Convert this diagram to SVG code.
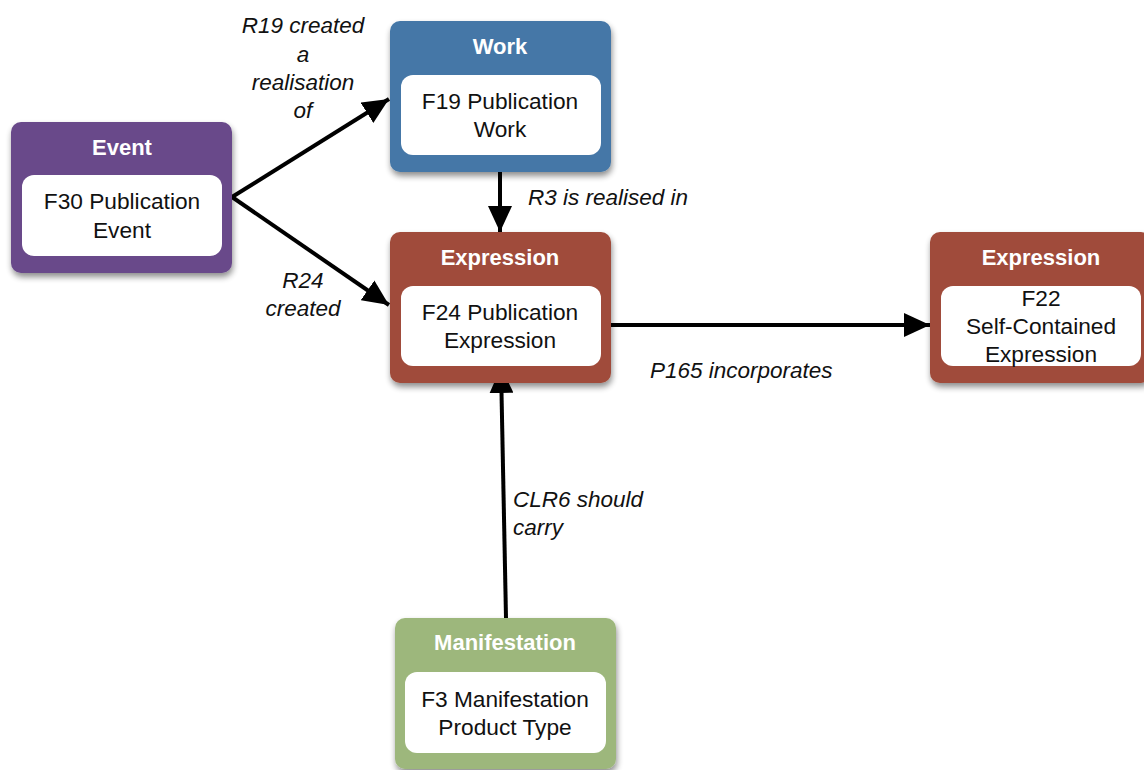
<svg xmlns="http://www.w3.org/2000/svg" width="1144" height="770" viewBox="0 0 1144 770">
<defs>
<filter id="sh" x="-10%" y="-10%" width="125%" height="130%">
<feGaussianBlur in="SourceAlpha" stdDeviation="3"/>
<feOffset dx="1" dy="4" result="b"/>
<feComponentTransfer><feFuncA type="linear" slope="0.45"/></feComponentTransfer>
<feMerge><feMergeNode/><feMergeNode in="SourceGraphic"/></feMerge>
</filter>
<marker id="ah" markerUnits="userSpaceOnUse" markerWidth="28" markerHeight="24" refX="26" refY="12" orient="auto">
<path d="M0,0 L26,12 L0,24 z" fill="#000"/>
</marker>
</defs>
<style>
.hd{font-family:"Liberation Sans",Arial,sans-serif;font-weight:bold;font-size:22px;fill:#fff;text-anchor:middle}
.tx{font-family:"Liberation Sans",Arial,sans-serif;font-size:22.7px;fill:#111;text-anchor:middle}
.lb{font-family:"Liberation Sans",Arial,sans-serif;font-style:italic;font-size:22.5px;fill:#111}
.in{fill:#fff}
.ln{stroke:#000;stroke-width:4;fill:none;marker-end:url(#ah)}
</style>
<g id="connectors">
<line class="ln" x1="232" y1="197" x2="389" y2="99"/>
<line class="ln" x1="232" y1="197" x2="389" y2="305"/>
<line class="ln" x1="500" y1="172" x2="500" y2="232"/>
<line class="ln" x1="611" y1="325" x2="930" y2="325"/>
<line class="ln" x1="506" y1="618" x2="501" y2="367"/>
<text class="lb" x="303" y="33" text-anchor="middle">R19 created</text>
<text class="lb" x="303" y="62" text-anchor="middle">a</text>
<text class="lb" x="303" y="90" text-anchor="middle">realisation</text>
<text class="lb" x="303" y="118" text-anchor="middle">of</text>
<text class="lb" x="303" y="288" text-anchor="middle">R24</text>
<text class="lb" x="303" y="316" text-anchor="middle">created</text>
<text class="lb" x="528" y="205">R3 is realised in</text>
<text class="lb" x="650" y="378">P165 incorporates</text>
<text class="lb" x="513" y="507">CLR6 should</text>
<text class="lb" x="513" y="535">carry</text>
</g>
<g id="event">
<rect x="11" y="122" width="221" height="151" rx="10" fill="#694a8a" filter="url(#sh)"/>
<text class="hd" x="122" y="155">Event</text>
<rect class="in" x="22" y="175" width="200" height="81" rx="12"/>
<text class="tx" x="122" y="209">F30 Publication</text>
<text class="tx" x="122" y="238">Event</text>
</g>
<g id="work">
<rect x="390" y="21" width="221" height="151" rx="10" fill="#4477a7" filter="url(#sh)"/>
<text class="hd" x="500" y="54">Work</text>
<rect class="in" x="401" y="75" width="200" height="80" rx="12"/>
<text class="tx" x="500" y="109">F19 Publication</text>
<text class="tx" x="500" y="137">Work</text>
</g>
<g id="expression1">
<rect x="390" y="232" width="221" height="151" rx="10" fill="#a04c3a" filter="url(#sh)"/>
<text class="hd" x="500" y="265">Expression</text>
<rect class="in" x="401" y="286" width="200" height="80" rx="12"/>
<text class="tx" x="500" y="320">F24 Publication</text>
<text class="tx" x="500" y="348">Expression</text>
</g>
<g id="expression2">
<rect x="930" y="232" width="221" height="151" rx="10" fill="#a04c3a" filter="url(#sh)"/>
<text class="hd" x="1041" y="265">Expression</text>
<rect class="in" x="941" y="286" width="200" height="80" rx="12"/>
<text class="tx" x="1041" y="306">F22</text>
<text class="tx" x="1041" y="334">Self-Contained</text>
<text class="tx" x="1041" y="362">Expression</text>
</g>
<g id="manifestation">
<rect x="395" y="618" width="221" height="151" rx="10" fill="#9db77c" filter="url(#sh)"/>
<text class="hd" x="505" y="650">Manifestation</text>
<rect class="in" x="405" y="672" width="201" height="81" rx="12"/>
<text class="tx" x="505" y="707">F3 Manifestation</text>
<text class="tx" x="505" y="735">Product Type</text>
</g>
</svg>
